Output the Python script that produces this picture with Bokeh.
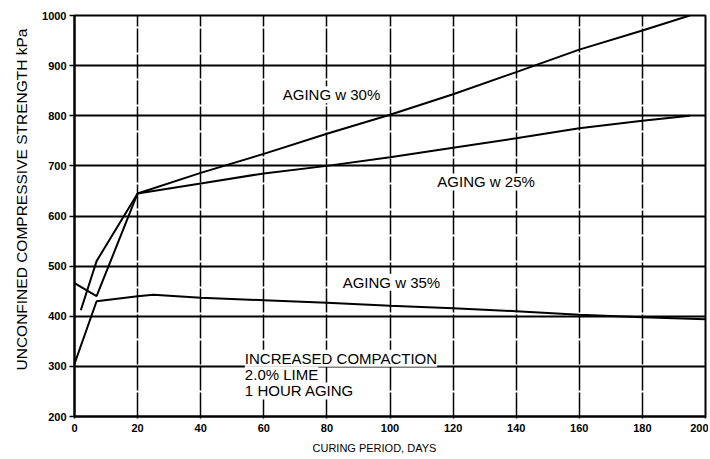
from bokeh.plotting import figure
from bokeh.models import Label, Title, Range1d, FixedTicker
from bokeh.embed import file_html
from bokeh.resources import INLINE

# ---- data ----
days_25 = [0, 7, 20, 40, 60, 80, 100, 120, 140, 160, 180, 195]
ucs_25 = [466, 440, 645, 665, 685, 700, 717, 736, 755, 775, 790, 800]

days_30 = [2, 7, 20, 40, 60, 80, 100, 120, 140, 160, 180, 195]
ucs_30 = [412, 510, 645, 686, 724, 764, 802, 843, 887, 932, 970, 1000]

days_35 = [0, 7, 20, 25, 40, 60, 80, 100, 120, 140, 160, 180, 200]
ucs_35 = [305, 430, 440, 443, 437, 432, 427, 421, 416, 410, 403, 398, 394]

x_ticks = [0, 20, 40, 60, 80, 100, 120, 140, 160, 180, 200]
y_ticks = [200, 300, 400, 500, 600, 700, 800, 900, 1000]

label_texts = ["AGING w 30%", "AGING w 25%", "AGING w 35%",
               "INCREASED COMPACTION", "2.0% LIME", "1 HOUR AGING"]
label_days = [66, 115, 85, 54, 54, 54]
label_ucs = [842, 668, 468, 316, 283, 251]

x_title = "CURING PERIOD, DAYS"
y_title = "UNCONFINED COMPRESSIVE STRENGTH kPa"

FONT = "Liberation Sans"

p = figure(width=708, height=459,
           x_range=Range1d(0, 200), y_range=Range1d(200, 1000),
           output_backend="svg", toolbar_location=None,
           min_border_left=73, min_border_right=3,
           min_border_top=15, min_border_bottom=43)

p.outline_line_color = "black"
p.outline_line_width = 2
p.background_fill_color = "white"
p.border_fill_color = "white"

p.xaxis.ticker = FixedTicker(ticks=x_ticks)
p.yaxis.ticker = FixedTicker(ticks=y_ticks)
p.axis.minor_tick_line_color = None
p.axis.axis_line_width = 2
p.axis.axis_line_color = "black"
p.axis.major_tick_line_color = "black"
p.axis.major_tick_line_width = 1.5
p.axis.major_tick_in = 0
p.yaxis.major_tick_out = 5
p.xaxis.major_tick_out = 2
p.axis.major_label_text_font = FONT
p.axis.major_label_text_font_size = "11px"
p.axis.major_label_text_font_style = "bold"
p.axis.major_label_text_color = "black"
p.yaxis.major_label_standoff = 3
p.xaxis.major_label_standoff = 5

p.ygrid.grid_line_color = "black"
p.ygrid.grid_line_width = 2.2
p.ygrid.grid_line_alpha = 1
p.xgrid.grid_line_color = "black"
p.xgrid.grid_line_width = 1.5
p.xgrid.grid_line_alpha = 1
p.xgrid.grid_line_dash = "24 2"

for xs, ys in [(days_25, ucs_25), (days_30, ucs_30), (days_35, ucs_35)]:
    p.line(xs, ys, line_color="black", line_width=2)

for t, x, y in zip(label_texts, label_days, label_ucs):
    p.add_layout(Label(x=x, y=y, text=t, text_font=FONT, text_font_size="15px",
                       text_color="black", text_baseline="middle", text_align="left",
                       background_fill_color="white"))

yt = Title(text=y_title, align="left", offset=46, standoff=20, text_font=FONT,
           text_font_size="15.5px", text_font_style="normal", text_color="black")
p.add_layout(yt, "left")
xt = Title(text=x_title, align="left", offset=238, text_font=FONT,
           text_font_size="11px", text_font_style="normal", text_color="black")
p.add_layout(xt, "below")

open("out.html", "w").write(file_html(p, INLINE))
